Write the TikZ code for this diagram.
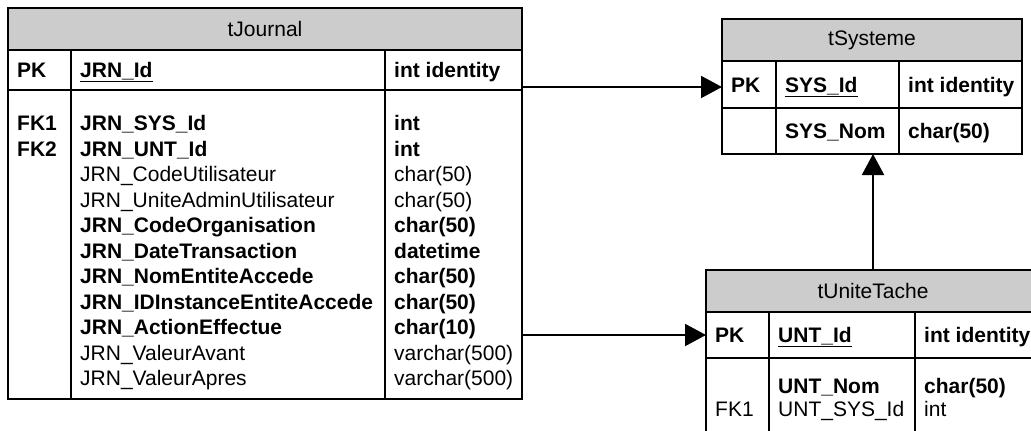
\documentclass[tikz,border=0pt]{standalone}
\usepackage{fontspec}
\setmainfont{Liberation Sans}
\usetikzlibrary{arrows.meta}
\definecolor{hdrgray}{RGB}{204,204,204}
\begin{document}
\begin{tikzpicture}[x=1pt,y=-1pt,
  tbl/.style={draw, line width=1.3pt, inner sep=0pt, outer sep=0pt, anchor=north west},
  hdr/.style={tbl, fill=hdrgray, font=\fontsize{21}{25}\selectfont},
  sep/.style={line width=1.3pt},
  txt/.style={anchor=base west, inner sep=0pt, font=\fontsize{21}{25}\selectfont},
  btxt/.style={txt, font=\fontsize{21}{25}\selectfont\bfseries},
  conn/.style={line width=2pt, -{Triangle[length=21pt,width=22pt]}}
]
\useasboundingbox (0,0) rectangle (1031,431);
\clip (0,0) rectangle (1031,431);

% ---------- tJournal ----------
\node[tbl, minimum width=514pt, minimum height=391pt] (jbox) at (8,8) {};
\node[hdr, minimum width=514pt, minimum height=42pt] (jhead) at (8,8) {tJournal};
\node[tbl, minimum width=514pt, minimum height=40pt] (jpk) at (8,50) {};
\draw[sep] (71,50) -- (71,399);
\draw[sep] (385,50) -- (385,399);
\node[btxt] (jpkk) at (17,77.5) {PK};
\node[btxt] (jpkn) at (80,77.5) {\underline{JRN\_Id}};
\node[btxt] (jpkt) at (394,77.5) {int identity};

\node[btxt] (j1k) at (17,130.5) {FK1};
\node[btxt] (j1n) at (80,130.5) {JRN\_SYS\_Id};
\node[btxt] (j1t) at (394,130.5) {int};
\node[btxt] (j2k) at (17,156) {FK2};
\node[btxt] (j2n) at (80,156) {JRN\_UNT\_Id};
\node[btxt] (j2t) at (394,156) {int};
\node[txt] (j3n) at (80,181.5) {JRN\_CodeUtilisateur};
\node[txt] (j3t) at (394,181.5) {char(50)};
\node[txt] (j4n) at (80,207) {JRN\_UniteAdminUtilisateur};
\node[txt] (j4t) at (394,207) {char(50)};
\node[btxt] (j5n) at (80,232.5) {JRN\_CodeOrganisation};
\node[btxt] (j5t) at (394,232.5) {char(50)};
\node[btxt] (j6n) at (80,258) {JRN\_DateTransaction};
\node[btxt] (j6t) at (394,258) {datetime};
\node[btxt] (j7n) at (80,283.5) {JRN\_NomEntiteAccede};
\node[btxt] (j7t) at (394,283.5) {char(50)};
\node[btxt] (j8n) at (80,309) {JRN\_IDInstanceEntiteAccede};
\node[btxt] (j8t) at (394,309) {char(50)};
\node[btxt] (j9n) at (80,334.5) {JRN\_ActionEffectue};
\node[btxt] (j9t) at (394,334.5) {char(10)};
\node[txt] (j10n) at (80,360) {JRN\_ValeurAvant};
\node[txt] (j10t) at (394,360) {varchar(500)};
\node[txt] (j11n) at (80,385.5) {JRN\_ValeurApres};
\node[txt] (j11t) at (394,385.5) {varchar(500)};

% ---------- tSysteme ----------
\node[tbl, minimum width=300pt, minimum height=135pt] (sbox) at (722,19) {};
\node[hdr, minimum width=300pt, minimum height=42pt] (shead) at (722,19) {tSysteme};
\node[tbl, minimum width=300pt, minimum height=47pt] (spk) at (722,61) {};
\draw[sep] (776,61) -- (776,154);
\draw[sep] (899,61) -- (899,154);
\node[btxt] (spkk) at (731,92) {PK};
\node[btxt] (spkn) at (785,92) {\underline{SYS\_Id}};
\node[btxt] (spkt) at (908,92) {int identity};
\node[btxt] (s1n) at (785,138.5) {SYS\_Nom};
\node[btxt] (s1t) at (908,138.5) {char(50)};

% ---------- tUniteTache ----------
\node[tbl, minimum width=334pt, minimum height=180pt] (ubox) at (706,270) {};
\node[hdr, minimum width=334pt, minimum height=42pt] (uhead) at (706,270) {tUniteTache};
\node[tbl, minimum width=334pt, minimum height=46pt] (upk) at (706,312) {};
\draw[sep] (769,312) -- (769,450);
\draw[sep] (915,312) -- (915,450);
\node[btxt] (upkk) at (715,342.5) {PK};
\node[btxt] (upkn) at (778,342.5) {\underline{UNT\_Id}};
\node[btxt] (upkt) at (924,342.5) {int identity};
\node[btxt] (u1n) at (778,393.5) {UNT\_Nom};
\node[btxt] (u1t) at (924,393.5) {char(50)};
\node[txt] (u2k) at (715,416.5) {FK1};
\node[txt] (u2n) at (778,416.5) {UNT\_SYS\_Id};
\node[txt] (u2t) at (924,416.5) {int};

% ---------- connectors ----------
\draw[conn] ([yshift=-2.5pt]jbox.east |- spk.west) -- ([yshift=-2.5pt]spk.west);
\draw[conn] (jbox.east |- upk.west) -- (upk.west);
\draw[conn] (ubox.north) -- (ubox.north |- sbox.south);
\end{tikzpicture}
\end{document}
